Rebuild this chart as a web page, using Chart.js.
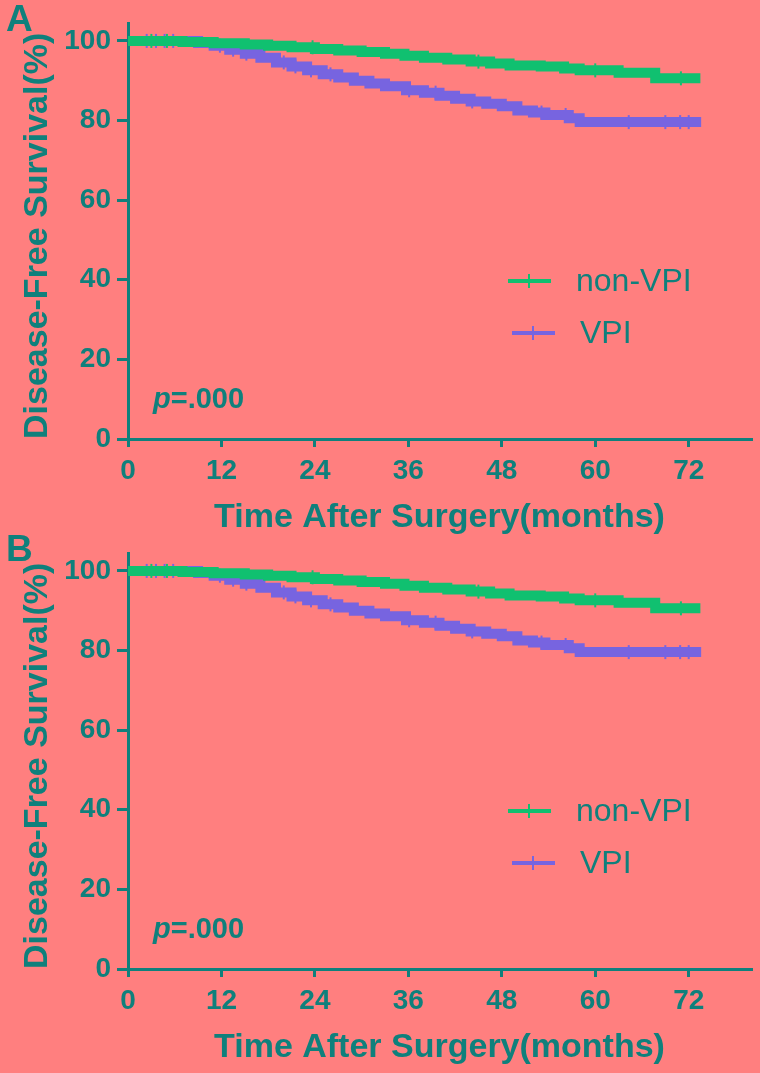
<!DOCTYPE html>
<html>
<head>
<meta charset="utf-8">
<script src="https://cdn.jsdelivr.net/npm/chart.js@4"></script>
<style>
  html, body { margin: 0; padding: 0; background: #ff7f7f; }
  #wrap { position: relative; width: 760px; height: 1073px; background: #ff7f7f; overflow: hidden; }
  canvas { position: absolute; left: 0; }
  #panelA { top: 0; }
  #panelB { top: 530px; }
</style>
</head>
<body>
<div id="wrap">
  <canvas id="panelA" width="760" height="543"></canvas>
  <canvas id="panelB" width="760" height="543"></canvas>
</div>
<script>
// Kaplan-Meier steps (months, % disease-free)
const nonVpiTime = [0, 7, 11, 15, 18, 21, 24, 27, 30, 33, 35.5, 38, 41, 44, 46.5, 49, 53, 56, 58, 63, 67.7, 73.5];
const nonVpiSurv = [100, 99.7, 99.4, 99.1, 98.8, 98.4, 98, 97.6, 97.2, 96.8, 96.3, 95.8, 95.3, 94.8, 94.3, 93.8, 93.6, 93.1, 92.6, 92.0, 90.6, 90.6];
const nonVpiCensor = [3, 5, 23.7, 45, 60, 71];

const vpiTime = [0, 9, 11, 13, 15, 17, 19, 21, 23, 25, 27, 29, 31, 33, 35.7, 38, 40, 42, 44, 46, 48, 50, 52, 53.6, 56.6, 58, 73.6];
const vpiSurv = [100, 99.5, 98.8, 97.8, 96.8, 95.8, 94.6, 93.6, 92.6, 91.6, 90.8, 90.0, 89.3, 88.6, 87.6, 87.0, 86.2, 85.5, 84.8, 84.2, 83.6, 82.5, 82.0, 81.4, 80.6, 79.6, 79.6];
const vpiCensor = [2.4, 3.6, 4.7, 5.8, 11.8, 13.5, 15.2, 20, 21.5, 23.5, 26, 36.1, 39.5, 44.2, 53.1, 56.2, 64.3, 69, 70.9, 72];

const xTicks = [0, 12, 24, 36, 48, 60, 72];
const yTicks = [0, 20, 40, 60, 80, 100];
const seriesNames = ['non-VPI', 'VPI'];

const TEAL = '#0f807c';
const GREEN = '#10c070';
const PURPLE = '#7764e0';
const FONT = "'Liberation Sans', Arial, sans-serif";

function toPoints(times, surv) {
  return times.map((t, i) => ({ x: t, y: surv[i] }));
}

// survival at time t, looked up from the step table
function survAt(times, surv, t) {
  let v = surv[0];
  for (let i = 0; i < times.length; i++) {
    if (times[i] <= t) v = surv[i];
  }
  return v;
}

function censorPoints(times, surv, cens) {
  return cens.map(t => ({ x: t, y: survAt(times, surv, t) }));
}

const extrasPlugin = {
  id: 'extras',
  afterDraw(chart, args, opts) {
    const ctx = chart.ctx;
    const a = chart.chartArea;
    ctx.save();
    ctx.fillStyle = TEAL;

    // panel letter
    ctx.font = 'bold 37px ' + FONT;
    ctx.textBaseline = 'middle';
    ctx.textAlign = 'left';
    ctx.fillText(opts.letter, 6, 21);

    // p value
    ctx.font = 'italic bold 29px ' + FONT;
    ctx.fillText('p', a.left + 25, a.bottom - 39);
    const pw = ctx.measureText('p').width;
    ctx.font = 'bold 29px ' + FONT;
    ctx.fillText('=.000', a.left + 25 + pw, a.bottom - 39);

    // legend
    const rows = [
      { name: seriesNames[0], color: GREEN, x: a.left + 380, y: a.bottom - 158 },
      { name: seriesNames[1], color: PURPLE, x: a.left + 384, y: a.bottom - 106 }
    ];
    rows.forEach(r => {
      ctx.strokeStyle = r.color;
      ctx.lineWidth = 4;
      ctx.beginPath();
      ctx.moveTo(r.x, r.y);
      ctx.lineTo(r.x + 43, r.y);
      ctx.stroke();
      ctx.lineWidth = 2;
      ctx.beginPath();
      ctx.moveTo(r.x + 21, r.y - 7);
      ctx.lineTo(r.x + 21, r.y + 7);
      ctx.stroke();
      ctx.fillStyle = TEAL;
      ctx.font = '32px ' + FONT;
      ctx.fillText(r.name, r.x + 68, r.y + 1);
    });
    ctx.restore();
  }
};

function makePanel(id, letter) {
  const ctx = document.getElementById(id).getContext('2d');
  return new Chart(ctx, {
    type: 'line',
    data: {
      datasets: [
        {
          label: seriesNames[0],
          data: toPoints(nonVpiTime, nonVpiSurv),
          borderColor: GREEN,
          borderWidth: 10,
          stepped: true,
          pointRadius: 0,
          fill: false
        },
        {
          label: seriesNames[0] + ' censored',
          data: censorPoints(nonVpiTime, nonVpiSurv, nonVpiCensor),
          showLine: false,
          pointStyle: 'line',
          rotation: 90,
          pointRadius: 7,
          pointBorderWidth: 2,
          borderColor: GREEN,
          pointBorderColor: GREEN
        },
        {
          label: seriesNames[1],
          data: toPoints(vpiTime, vpiSurv),
          borderColor: PURPLE,
          borderWidth: 10,
          stepped: true,
          pointRadius: 0,
          fill: false
        },
        {
          label: seriesNames[1] + ' censored',
          data: censorPoints(vpiTime, vpiSurv, vpiCensor),
          showLine: false,
          pointStyle: 'line',
          rotation: 90,
          pointRadius: 7,
          pointBorderWidth: 2,
          borderColor: PURPLE,
          pointBorderColor: PURPLE
        }
      ]
    },
    options: {
      responsive: false,
      devicePixelRatio: 1,
      animation: false,
      layout: { padding: { left: 0, right: 5, top: 23, bottom: 0 } },
      plugins: {
        legend: { display: false },
        tooltip: { enabled: false },
        extras: { letter: letter }
      },
      scales: {
        x: {
          type: 'linear',
          min: 0,
          max: 80,
          afterBuildTicks: s => { s.ticks = xTicks.map(v => ({ value: v })); },
          afterFit: s => { s.height = 104; },
          border: { display: true, color: TEAL, width: 3 },
          grid: { drawOnChartArea: false, drawTicks: true, tickLength: 8, color: TEAL, lineWidth: 3 },
          ticks: {
            color: TEAL,
            padding: 7,
            maxRotation: 0,
            font: { family: FONT, size: 28, weight: 'bold' }
          },
          title: {
            display: true,
            text: 'Time After Surgery(months)',
            color: TEAL,
            padding: { top: 0, bottom: 5 },
            font: { family: FONT, size: 34, weight: 'bold' }
          }
        },
        y: {
          min: 0,
          max: 104.5,
          afterBuildTicks: s => { s.ticks = yTicks.map(v => ({ value: v })); },
          afterFit: s => { s.width = 128; },
          border: { display: true, color: TEAL, width: 3 },
          grid: { drawOnChartArea: false, drawTicks: true, tickLength: 11, color: TEAL, lineWidth: 3 },
          ticks: {
            color: TEAL,
            padding: 6,
            font: { family: FONT, size: 28, weight: 'bold' }
          },
          title: {
            display: true,
            text: 'Disease-Free Survival(%)',
            color: TEAL,
            align: 'start',
            padding: { top: 17, bottom: 0 },
            font: { family: FONT, size: 34, weight: 'bold' }
          }
        }
      }
    },
    plugins: [extrasPlugin]
  });
}

makePanel('panelA', 'A');
makePanel('panelB', 'B');
</script>
</body>
</html>
